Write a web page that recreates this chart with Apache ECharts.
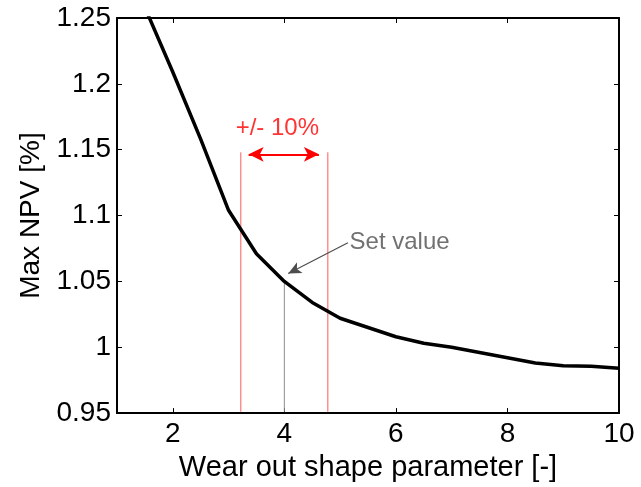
<!DOCTYPE html>
<html>
	<head>
		<meta charset="utf-8">
		<title>Max NPV vs wear out shape parameter</title>
		<style>
			html, body {
				width: 100%;
				height: 100%;
				margin: 0;
				padding: 0;
				background: #fff;
			}
			#main {
				width: 641px;
				height: 487px;
			}
		</style>
	</head>
	<body>
		<div id="main"></div>
		<script src="https://cdn.jsdelivr.net/npm/echarts@6/dist/echarts.min.js"></script>
		<script>
			var font = "'Liberation Sans', Arial, sans-serif";

			// curve
			var shapeParam = [1.5, 2, 2.5, 3, 3.5, 4, 4.5, 5, 5.5, 6, 6.5, 7, 7.5, 8, 8.5, 9, 9.5, 10];
			var maxNpv = [1.258, 1.209, 1.158, 1.104, 1.071, 1.05, 1.034, 1.022, 1.015, 1.008, 1.003, 1.0, 0.996, 0.992, 0.988, 0.986, 0.9855, 0.984];

			var xTicks = [2, 4, 6, 8, 10];

			// +/- range and set value
			var rangeX = [3.22, 4.78];
			var rangeTop = 1.148;
			var arrowX = [3.36, 4.62];
			var arrowY = 1.1465;
			var setX = 4;
			var setY = 1.05;
			var setArrowFrom = [5.14, 1.0793];
			var setArrowTo = [4.07, 1.056];
			var rangeText = ['+/- 10%', 3.875, 1.166];
			var setText = ['Set value', 5.16, 1.080];

			var pairs = shapeParam.map(function(v, i) { return [v, maxNpv[i]]; });

			function vline(x, y0, y1, color) {
				return {
					type: 'line',
					data: [[x, y0], [x, y1]],
					symbol: 'none',
					silent: true,
					lineStyle: { color: color, width: 1 },
					z: 1
				};
			}

			var chart = echarts.init(document.getElementById('main'), null, {renderer: 'canvas'});
			chart.setOption({
				animation: false,
				grid: { left: 117, right: 22, top: 18, bottom: 73 },
				xAxis: [{
					type: 'value',
					min: 1,
					max: 10,
					name: 'Wear out shape parameter [-]',
					nameLocation: 'middle',
					nameGap: 35,
					nameTextStyle: { fontFamily: font, fontSize: 29, color: '#000' },
					axisLine: { lineStyle: { color: '#000', width: 2 } },
					axisTick: { inside: true, length: 5, customValues: xTicks, lineStyle: { color: '#000' } },
					axisLabel: { customValues: xTicks, fontFamily: font, fontSize: 28, color: '#000', margin: 7 },
					splitLine: { show: false }
				}, {
					type: 'value',
					position: 'top',
					min: 1,
					max: 10,
					axisLine: { lineStyle: { color: '#000', width: 2 } },
					axisTick: { inside: true, length: 5, customValues: xTicks, lineStyle: { color: '#000' } },
					axisLabel: { show: false },
					splitLine: { show: false }
				}],
				yAxis: [{
					type: 'value',
					min: 0.95,
					max: 1.25,
					interval: 0.05,
					name: 'Max NPV [%]',
					nameLocation: 'middle',
					nameGap: 64,
					nameTextStyle: { fontFamily: font, fontSize: 28, color: '#000' },
					axisLine: { lineStyle: { color: '#000', width: 2 } },
					axisTick: { inside: true, length: 5, lineStyle: { color: '#000' } },
					axisLabel: { fontFamily: font, fontSize: 28, color: '#000', margin: 6 },
					splitLine: { show: false }
				}, {
					type: 'value',
					position: 'right',
					min: 0.95,
					max: 1.25,
					interval: 0.05,
					axisLine: { lineStyle: { color: '#000', width: 2 } },
					axisTick: { inside: true, length: 5, lineStyle: { color: '#000' } },
					axisLabel: { show: false },
					splitLine: { show: false }
				}],
				series: [
					vline(rangeX[0], 0.951, rangeTop, '#ff5a5a'),
					vline(rangeX[1], 0.951, rangeTop, '#ff5a5a'),
					vline(setX, 0.951, setY, '#8c8c8c'),
					{
						type: 'line',
						data: pairs,
						symbol: 'none',
						clip: true,
						lineStyle: { color: '#000', width: 3.5 },
						z: 3
					},
					{
						type: 'scatter',
						symbolSize: 1,
						itemStyle: { color: 'rgba(0,0,0,0)' },
						silent: true,
						data: [
							{ value: [rangeText[1], rangeText[2]], name: rangeText[0],
								label: { show: true, position: 'inside', formatter: '{b}', color: '#ff0000',
									fontFamily: font, fontSize: 24 } },
							{ value: [setText[1], setText[2]], name: setText[0],
								label: { show: true, position: 'right', distance: 0, formatter: '{b}', color: '#4d4d4d',
									fontFamily: font, fontSize: 24 } }
						],
						markLine: {
							silent: true,
							animation: false,
							label: { show: false },
							data: [
								[{ coord: [arrowX[0], arrowY], symbol: 'arrow', symbolSize: [11, 15],
									lineStyle: { color: '#ff0000', width: 2, type: 'solid' } },
								 { coord: [arrowX[1], arrowY], symbol: 'arrow', symbolSize: [11, 15] }],
								[{ coord: setArrowFrom, symbol: 'none',
									lineStyle: { color: '#4d4d4d', width: 1.2, type: 'solid' } },
								 { coord: setArrowTo, symbol: 'arrow', symbolSize: [9, 13] }]
							]
						},
						z: 4
					}
				]
			});
		</script>
	</body>
</html>
